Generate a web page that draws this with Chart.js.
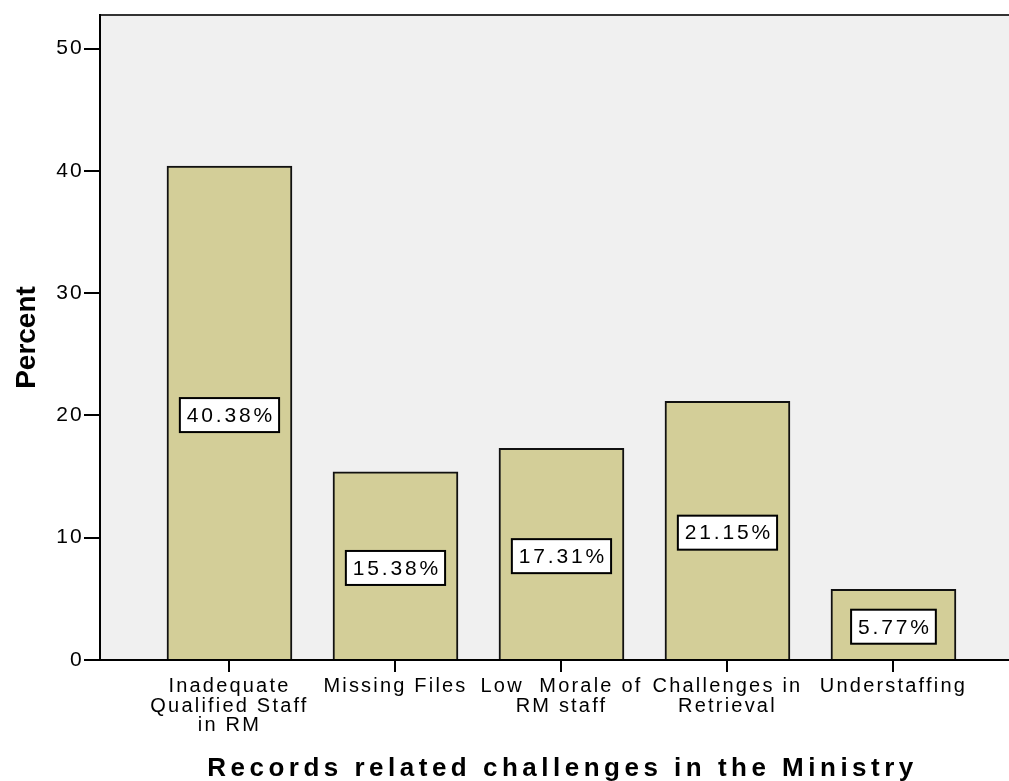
<!DOCTYPE html>
<html>
<head>
<meta charset="utf-8">
<title>Records related challenges in the Ministry</title>
<script src="https://cdn.jsdelivr.net/npm/chart.js@4.4.1/dist/chart.umd.min.js"></script>
<style>
  html, body { margin: 0; padding: 0; background: #fff; }
</style>
</head>
<body>
<canvas id="challengesChart" width="1009" height="781"></canvas>
<script>
// records challenges
const categories = [
    ['Inadequate', 'Qualified Staff', 'in RM'],
    ['Missing Files'],
    ['Low  Morale of', 'RM staff'],
    ['Challenges in', 'Retrieval'],
    ['Understaffing']
];
const percentValues = [40.38, 15.38, 17.31, 21.15, 5.77];
const percentTicks = [0, 10, 20, 30, 40, 50];

const FONT = '"Liberation Sans", Arial, sans-serif';

// wider letter spacing on the axis titles, SPSS style
function spaceTitle(scale, spacing, shiftX) {
    if (scale._spaced) return;
    const draw = scale.drawTitle;
    scale.drawTitle = function () {
        const ctx = this.ctx;
        const prev = ctx.letterSpacing;
        ctx.save();
        ctx.translate(shiftX, 0);
        ctx.letterSpacing = spacing;
        draw.call(this);
        ctx.restore();
        ctx.letterSpacing = prev;
    };
    scale._spaced = true;
}

// grey plot background + top frame line
const plotFrame = {
    id: 'plotFrame',
    afterLayout(chart) {
        spaceTitle(chart.scales.x, '4.5px', 8);
        spaceTitle(chart.scales.y, '0px', 0);
    },
    beforeDraw(chart) {
        const { ctx, chartArea: a } = chart;
        ctx.save();
        ctx.fillStyle = '#f0f0f0';
        ctx.fillRect(a.left, a.top, a.right - a.left, a.bottom - a.top);
        ctx.strokeStyle = '#333';
        ctx.lineWidth = 2;
        ctx.beginPath();
        ctx.moveTo(a.left - 1, a.top);
        ctx.lineTo(a.right, a.top);
        ctx.stroke();
        ctx.restore();
        ctx.letterSpacing = '2.2px';
    }
};

// percent boxes in the middle of each bar
const valueBoxes = {
    id: 'valueBoxes',
    afterDatasetsDraw(chart) {
        const { ctx, scales: { y } } = chart;
        const bars = chart.getDatasetMeta(0).data;
        const sp = 2.8;
        ctx.save();
        ctx.font = '21px ' + FONT;
        ctx.letterSpacing = sp + 'px';
        ctx.textAlign = 'center';
        ctx.textBaseline = 'middle';
        bars.forEach((bar, i) => {
            const v = percentValues[i];
            const text = v.toFixed(2) + '%';
            const cy = y.getPixelForValue(v / 2) + 2;
            const w = ctx.measureText(text).width - sp + 14;
            const h = 34;
            ctx.fillStyle = '#fff';
            ctx.fillRect(bar.x - w / 2, cy - h / 2, w, h);
            ctx.strokeStyle = '#000';
            ctx.lineWidth = 2;
            ctx.strokeRect(bar.x - w / 2, cy - h / 2, w, h);
            ctx.fillStyle = '#000';
            ctx.fillText(text, bar.x + sp / 2, cy + 1);
        });
        ctx.restore();
    }
};

document.addEventListener('DOMContentLoaded', () => {
    const ctx = document.getElementById('challengesChart').getContext('2d');

    new Chart(ctx, {
        type: 'bar',
        data: {
            datasets: [{
                data: percentValues.map((v, i) => ({ x: i, y: v })),
                backgroundColor: '#d3ce98',
                borderColor: '#111',
                borderWidth: 2,
                barThickness: 125
            }]
        },
        options: {
            responsive: false,
            animation: false,
            layout: { padding: { top: 15, left: 0, right: 0, bottom: 0 } },
            plugins: { legend: false, tooltip: { enabled: false } },
            scales: {
                x: {
                    type: 'linear',
                    offset: false,
                    min: -0.78,
                    max: 4.696,
                    afterBuildTicks: s => { s.ticks = categories.map((c, i) => ({ value: i })); },
                    afterFit: s => { s.height = 121; },
                    border: { display: true, color: '#000', width: 2 },
                    grid: { offset: false, drawOnChartArea: false, drawTicks: true, tickLength: 12, color: '#000', lineWidth: 2 },
                    ticks: {
                        autoSkip: false,
                        maxRotation: 0,
                        color: '#000',
                        padding: 5,
                        font: { family: FONT, size: 20, lineHeight: 0.975 },
                        callback: v => categories[v]
                    },
                    title: {
                        display: true,
                        text: 'Records related challenges in the Ministry',
                        color: '#000',
                        font: { family: FONT, size: 26, weight: 'bold', lineHeight: 1 },
                        padding: { top: 0, bottom: -1 }
                    }
                },
                y: {
                    min: 0,
                    max: 52.74,
                    afterBuildTicks: s => { s.ticks = percentTicks.map(v => ({ value: v })); },
                    afterFit: s => { s.width = 100; },
                    border: { display: true, color: '#000', width: 2 },
                    grid: { drawOnChartArea: false, drawTicks: true, tickLength: 16, color: '#000', lineWidth: 2 },
                    ticks: { color: '#000', padding: 0, font: { family: FONT, size: 21 } },
                    title: {
                        display: true,
                        text: 'Percent',
                        color: '#000',
                        font: { family: FONT, size: 28, weight: 'bold', lineHeight: 1 },
                        padding: { top: 13, bottom: 0 }
                    }
                }
            }
        },
        plugins: [plotFrame, valueBoxes]
    });
});
</script>
</body>
</html>
